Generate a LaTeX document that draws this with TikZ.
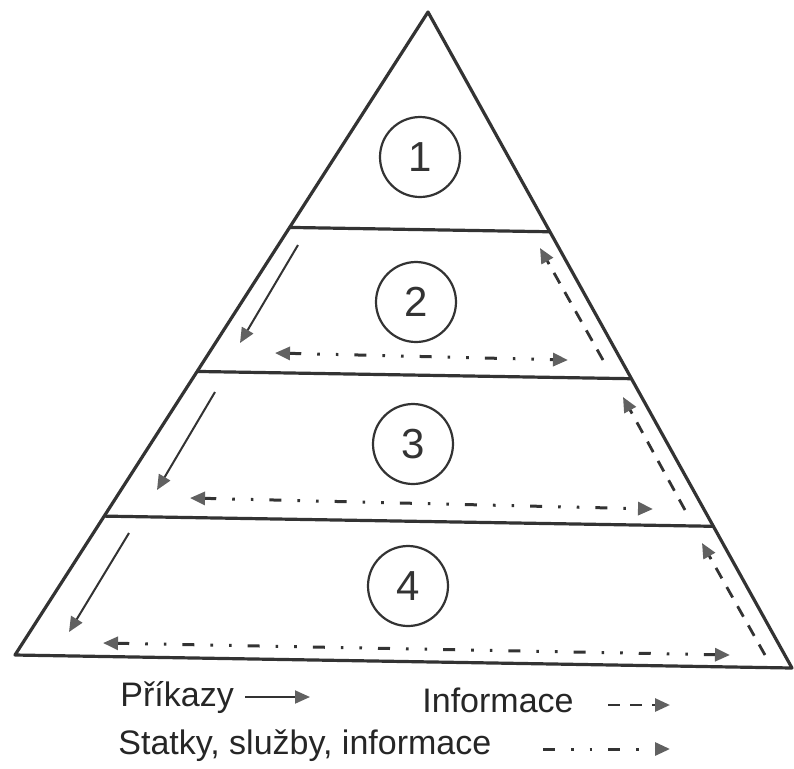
\documentclass[tikz,border=0pt]{standalone}
\usepackage{fontspec}
\setmainfont{Liberation Sans}
\usetikzlibrary{calc,arrows.meta}
\begin{document}
\begin{tikzpicture}[x=0.5pt,y=-0.5pt,line join=round,>={Triangle[length=7.5pt,width=6.5pt,color=black!62]},
	edge/.style={line width=1.6pt,draw=black!80},
	cmd/.style={->,line width=1pt,draw=black!80},
	info/.style={->,line width=1.4pt,draw=black!80,dash pattern=on 6pt off 5pt},
	goods/.style={line width=1.5pt,draw=black!80,dash pattern=on 6pt off 8pt on 1.3pt off 8pt on 1.3pt off 8pt},
	layer/.style={circle,draw=black!80,line width=1.1pt,minimum size=40pt,inner sep=0pt,font=\fontsize{21}{21}\selectfont,text=black!80},
	legend/.style={anchor=base west,inner sep=0pt,font=\fontsize{17}{17}\selectfont,text=black!85}]
	\useasboundingbox (0,0) rectangle (794,768);
	\coordinate (top) at (428,12);
	\coordinate (bl) at (15,655);
	\coordinate (br) at (792,668);
	\draw[edge] (top)--(bl)--(br)--cycle;
	\foreach \t in {0.335,0.559,0.784}
	\draw[edge] ($(top)!\t!(bl)$)--($(top)!\t!(br)$);
	\foreach \n/\x/\y in {1/420/157,2/416/302,3/413/444,4/408/586}
	\node[layer] (n\n) at (\x,\y) {\n};
	% commands, information, goods in each layer
	\foreach \xa/\ya/\xb/\yb in {298/245/240/343,215/392/157/490,129/533/69/632}
	\draw[cmd] (\xa,\ya)--(\xb,\yb);
	\foreach \xa/\ya/\xb/\yb in {603/360/540/248,685/510/623/397,765/655/702/543}
	\draw[info] (\xa,\ya)--(\xb,\yb);
	\foreach \xa/\ya/\xb/\yb in {275/353/568/360,190/498/653/509,103/643/730/655}
	\draw[goods,<->] (\xa,\ya)--(\xb,\yb);
	% legend
	\node[legend] (cmdtxt) at (120,706) {Příkazy};
	\draw[cmd] (245,697)--(310,697);
	\node[legend] (infotxt) at (422,712) {Informace};
	\draw[info] (608,705)--(670,705);
	\node[legend] (goodstxt) at (118,754) {Statky, služby, informace};
	\draw[goods,->] (543,749)--(670,749);
\end{tikzpicture}
\end{document}
